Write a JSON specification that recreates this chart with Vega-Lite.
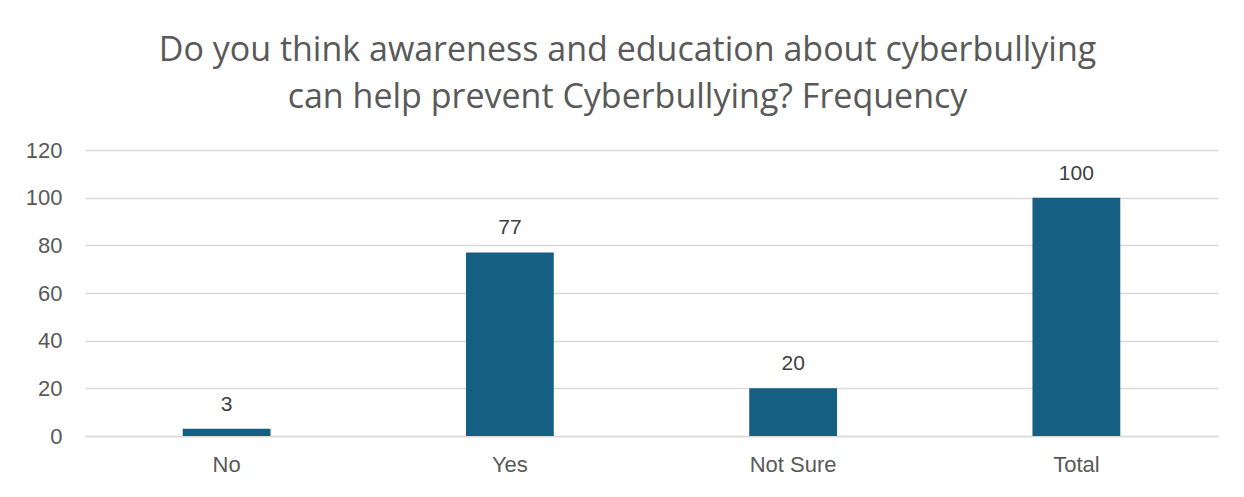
{
  "$schema": "https://vega.github.io/schema/vega-lite/v6.json",
  "autosize": {"type": "none"},
  "width": 1133,
  "height": 286,
  "padding": {"left": 85, "top": 150, "right": 26, "bottom": 61},
  "background": "white",
  "title": {
    "text": ["Do you think awareness and education about cyberbullying", "can help prevent Cyberbullying? Frequency"],
    "font": "Open Sans",
    "fontSize": 34,
    "fontWeight": "normal",
    "color": "#595959",
    "lineHeight": 47,
    "anchor": "middle",
    "dx": -24,
    "offset": 24
  },
  "data": {
    "values": [
      {"category": "No", "frequency": 3},
      {"category": "Yes", "frequency": 77},
      {"category": "Not Sure", "frequency": 20},
      {"category": "Total", "frequency": 100}
    ]
  },
  "config": {
    "view": {"stroke": null},
    "axis": {"labelFont": "Liberation Sans", "labelColor": "#595959"}
  },
  "encoding": {
    "x": {
      "field": "category",
      "type": "nominal",
      "sort": null,
      "scale": {"paddingInner": 0.69, "paddingOuter": 0.345},
      "axis": {
        "title": null,
        "labelAngle": 0,
        "labelFontSize": 22,
        "labelPadding": 18,
        "ticks": false,
        "domainColor": "#d9d9d9",
        "domainWidth": 1.5
      }
    },
    "y": {
      "field": "frequency",
      "type": "quantitative",
      "scale": {"domain": [0, 120]},
      "axis": {
        "title": null,
        "values": [0, 20, 40, 60, 80, 100, 120],
        "labelFontSize": 22,
        "labelPadding": 23,
        "ticks": false,
        "domain": false,
        "gridColor": "#d9d9d9",
        "gridWidth": 1.5
      }
    }
  },
  "layer": [
    {"mark": {"type": "bar", "color": "#156082"}},
    {
      "mark": {"type": "text", "baseline": "alphabetic", "dy": -18, "font": "Liberation Sans", "fontSize": 21, "color": "#404040"},
      "encoding": {"text": {"field": "frequency", "type": "quantitative"}}
    }
  ]
}
